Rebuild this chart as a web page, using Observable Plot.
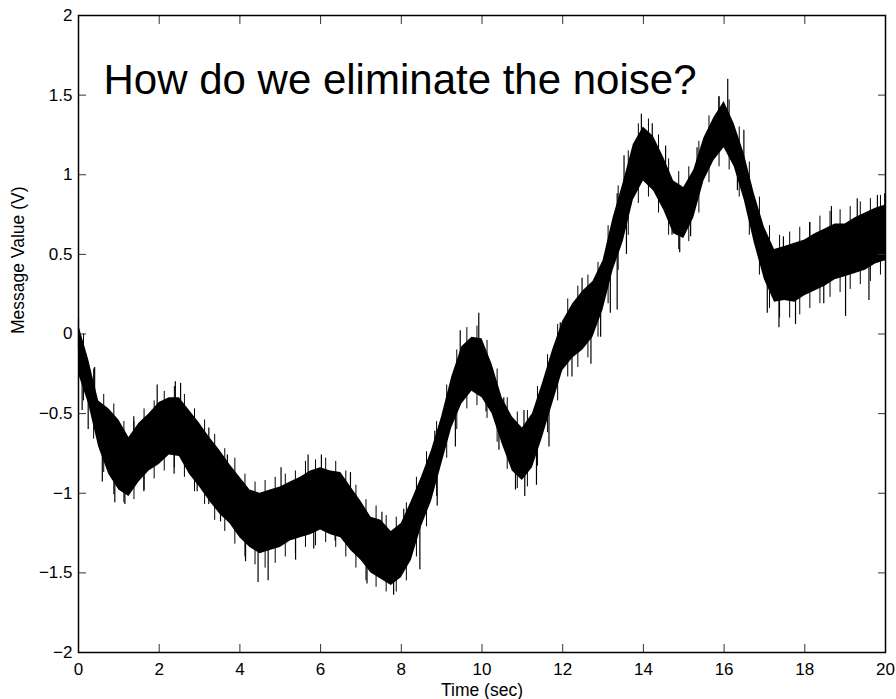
<!DOCTYPE html>
<html>
<head>
<meta charset="utf-8">
<script src="https://cdn.jsdelivr.net/npm/d3@7"></script>
<script src="https://cdn.jsdelivr.net/npm/@observablehq/plot@0.6"></script>
<style>
  html, body { margin: 0; padding: 0; background: #fff; }
  #chart { width: 896px; height: 699px; }
</style>
</head>
<body>
<div id="chart"></div>
<script>
// ---- Data ----
const title = "How do we eliminate the noise?";
const xLabel = "Time (sec)";
const yLabel = "Message Value (V)";
const xTicks = [0, 2, 4, 6, 8, 10, 12, 14, 16, 18, 20];
const yTicks = [-2, -1.5, -1, -0.5, 0, 0.5, 1, 1.5, 2];

// sample times (s) for the dense band
const times = [0,0.25,0.5,0.75,1,1.25,1.5,1.75,2,2.25,2.5,2.75,3,3.25,3.5,3.75,4,4.25,4.5,4.75,
  5,5.25,5.5,5.75,6,6.25,6.5,6.75,7,7.25,7.5,7.75,8,8.25,8.5,8.75,9,9.25,9.5,9.75,
  10,10.25,10.5,10.75,11,11.25,11.5,11.75,12,12.25,12.5,12.75,13,13.25,13.5,13.75,14,14.25,14.5,14.75,
  15,15.25,15.5,15.75,16,16.25,16.5,16.75,17,17.25,17.5,17.75,18,18.25,18.5,18.75,19,19.25,19.5,19.75,20];
// upper edge of the dense noisy band (V)
const bandHigh = [0.06,-0.16,-0.42,-0.47,-0.54,-0.65,-0.56,-0.50,-0.43,-0.40,-0.40,-0.48,-0.56,-0.65,-0.73,-0.82,-0.90,-0.98,-1.00,-0.98,
  -0.96,-0.93,-0.90,-0.86,-0.84,-0.86,-0.87,-0.96,-1.05,-1.15,-1.17,-1.24,-1.19,-1.05,-0.90,-0.73,-0.52,-0.27,-0.08,-0.02,
  -0.03,-0.19,-0.40,-0.52,-0.59,-0.50,-0.31,-0.10,0.08,0.19,0.27,0.33,0.46,0.73,0.95,1.19,1.30,1.24,1.11,0.96,
  0.92,1.03,1.23,1.36,1.46,1.32,1.13,0.88,0.67,0.53,0.55,0.57,0.59,0.63,0.66,0.69,0.69,0.73,0.76,0.79,0.81];
// lower edge of the dense noisy band (V)
const bandLow = [-0.25,-0.44,-0.71,-0.88,-0.98,-1.02,-0.93,-0.86,-0.82,-0.76,-0.77,-0.88,-0.96,-1.05,-1.13,-1.19,-1.28,-1.34,-1.38,-1.36,
  -1.34,-1.30,-1.28,-1.26,-1.23,-1.26,-1.28,-1.36,-1.42,-1.50,-1.54,-1.58,-1.53,-1.42,-1.21,-1.05,-0.82,-0.59,-0.44,-0.36,
  -0.40,-0.50,-0.69,-0.86,-0.92,-0.84,-0.65,-0.44,-0.23,-0.15,-0.10,-0.02,0.15,0.40,0.58,0.84,0.96,0.90,0.78,0.63,
  0.60,0.73,0.96,1.09,1.17,1.05,0.84,0.57,0.34,0.20,0.21,0.20,0.24,0.27,0.30,0.34,0.36,0.38,0.40,0.44,0.46];

// spike extents between the band samples (times 0.125, 0.375, ... 19.875)
const midTimes = [0.125,0.375,0.625,0.875,1.125,1.375,1.625,1.875,2.125,2.375,2.625,2.875,3.125,3.375,3.625,3.875,4.125,4.375,4.625,4.875,
  5.125,5.375,5.625,5.875,6.125,6.375,6.625,6.875,7.125,7.375,7.625,7.875,8.125,8.375,8.625,8.875,9.125,9.375,9.625,9.875,
  10.125,10.375,10.625,10.875,11.125,11.375,11.625,11.875,12.125,12.375,12.625,12.875,13.125,13.375,13.625,13.875,14.125,14.375,14.625,14.875,
  15.125,15.375,15.625,15.875,16.125,16.375,16.625,16.875,17.125,17.375,17.625,17.875,18.125,18.375,18.625,18.875,19.125,19.375,19.625,19.875];
const midSpikeHigh = [0.0,-0.22,-0.38,-0.44,-0.55,-0.55,-0.47,-0.42,-0.36,-0.33,-0.38,-0.47,-0.54,-0.63,-0.72,-0.78,-0.88,-0.93,-0.92,-0.90,
  -0.88,-0.86,-0.80,-0.79,-0.78,-0.80,-0.86,-0.95,-1.04,-1.08,-1.14,-1.15,-1.06,-0.90,-0.74,-0.55,-0.32,-0.10,0.04,0.05,
  -0.04,-0.22,-0.40,-0.49,-0.48,-0.33,-0.13,0.06,0.22,0.30,0.37,0.45,0.68,0.93,1.15,1.32,1.35,1.25,1.10,1.02,
  1.05,1.21,1.37,1.49,1.47,1.30,1.08,0.86,0.68,0.62,0.64,0.67,0.70,0.74,0.77,0.78,0.80,0.83,0.85,0.87];
const midSpikeLow = [-0.42,-0.66,-0.87,-1.01,-1.06,-1.04,-0.98,-0.91,-0.86,-0.84,-0.90,-0.99,-1.07,-1.17,-1.24,-1.32,-1.40,-1.45,-1.47,-1.44,
  -1.40,-1.38,-1.34,-1.33,-1.31,-1.34,-1.40,-1.47,-1.55,-1.59,-1.62,-1.62,-1.55,-1.40,-1.21,-1.02,-0.78,-0.60,-0.47,-0.45,
  -0.53,-0.68,-0.85,-0.97,-0.96,-0.83,-0.62,-0.42,-0.27,-0.21,-0.15,-0.02,0.19,0.40,0.62,0.82,0.86,0.76,0.62,0.53,
  0.58,0.76,0.95,1.05,1.03,0.86,0.62,0.37,0.16,0.10,0.10,0.12,0.16,0.19,0.23,0.26,0.28,0.31,0.33,0.37];

// individual large noise spikes: time (s) and tip value (V)
const spikeTimes = [0.0,0.09,0.24,0.4,0.59,0.9,1.15,1.37,1.62,1.95,2.4,2.53,2.37,2.94,3.23,3.23,3.52,3.69,4.14,4.45,4.70,5.02,5.38,5.69,5.83,6.02,6.36,
  6.61,6.74,7.15,7.52,7.81,8.06,8.46,8.57,8.89,8.83,9.34,9.46,9.92,10.10,10.42,10.54,10.83,11.06,11.04,11.35,11.53,11.66,11.94,12.23,12.7,12.48,12.94,13.17,13.18,13.35,
  13.35,13.58,13.52,13.95,14.22,14.42,14.55,14.71,14.90,15.17,15.33,15.87,16.09,16.33,16.49,16.76,17.07,17.36,17.47,17.77,18.12,18.47,18.66,19.01,19.30,19.59,19.80,19.98];
const spikeTips = [0.09,-0.48,-0.60,-0.21,-0.93,-1.06,-1.07,-0.52,-0.99,-0.32,-0.30,-0.31,-0.88,-0.99,-0.59,-1.07,-1.18,-0.76,-1.43,-1.56,-1.55,-0.84,-1.42,-0.76,-1.35,-0.76,-1.30,
  -1.31,-0.87,-1.57,-1.12,-1.64,-1.10,-1.48,-0.89,-1.08,-0.61,-0.71,0.02,0.13,-0.49,-0.73,-0.40,-0.98,-1.02,-0.48,-0.95,-0.38,-0.71,0.07,-0.27,-0.19,0.35,-0.02,0.63,0.13,0.88,
  0.15,0.50,1.12,1.38,1.32,0.82,1.18,0.62,0.51,0.61,1.17,1.49,1.60,0.90,1.28,0.67,0.13,0.04,0.61,0.06,0.70,0.19,0.80,0.11,0.85,0.21,0.87,0.88];

// ---- Build tables ----
const band = times.map((t, i) => ({t, hi: bandHigh[i], lo: bandLow[i]}));
function bandMid(t) {
  const i = Math.max(0, Math.min(times.length - 2, d3.bisectRight(times, t) - 1));
  const f = (t - times[i]) / (times[i + 1] - times[i]);
  const m0 = (bandHigh[i] + bandLow[i]) / 2, m1 = (bandHigh[i + 1] + bandLow[i + 1]) / 2;
  return m0 + (m1 - m0) * f;
}
const midSpikes = midTimes.map((t, i) => ({t, hi: midSpikeHigh[i], lo: midSpikeLow[i]}));
const spikes = spikeTimes.map((t, i) => ({t, tip: spikeTips[i], base: bandMid(t)}));

const font = "'Liberation Sans', Arial, Helvetica, sans-serif";
const fmt = d3.format("");

const chart = Plot.plot({
  width: 896,
  height: 699,
  marginLeft: 78,
  marginRight: 11,
  marginTop: 15,
  marginBottom: 47,
  style: {fontFamily: font, fontSize: "17px", color: "#000", background: "#fff"},
  x: {domain: [0, 20]},
  y: {domain: [-2, 2]},
  marks: [
    Plot.areaY(band, {x: "t", y1: "lo", y2: "hi", fill: "#000", curve: "linear"}),
    Plot.ruleX(midSpikes, {x: "t", y1: "lo", y2: "hi", stroke: "#000", strokeWidth: 1}),
    Plot.ruleX(spikes, {x: "t", y1: "base", y2: "tip", stroke: "#000", strokeWidth: 1.2}),
    Plot.axisX({ticks: xTicks, tickFormat: fmt, tickSize: -8, tickPadding: 18, label: null, stroke: "#333", fontSize: 17}),
    Plot.axisX({anchor: "top", ticks: xTicks, tickSize: -8, tickFormat: () => "", label: null, stroke: "#333"}),
    Plot.axisY({ticks: yTicks, tickFormat: fmt, tickSize: -8, tickPadding: 14, label: null, stroke: "#333", fontSize: 17}),
    Plot.axisY({anchor: "right", ticks: yTicks, tickSize: -8, tickFormat: () => "", label: null, stroke: "#333"}),
    Plot.frame({stroke: "#000", strokeWidth: 1.5}),
    Plot.text([xLabel], {text: d => d, frameAnchor: "bottom", dy: 38, lineAnchor: "middle", fontSize: 17.5}),
    Plot.text([yLabel], {text: d => d, frameAnchor: "left", rotate: -90, dx: -60, lineAnchor: "middle", fontSize: 17.5}),
    Plot.text([title], {text: d => d, frameAnchor: "top-left", textAnchor: "start", lineAnchor: "top", dx: 25, dy: 49, fontSize: 42})
  ]
});
document.getElementById("chart").appendChild(chart);
</script>
</body>
</html>
